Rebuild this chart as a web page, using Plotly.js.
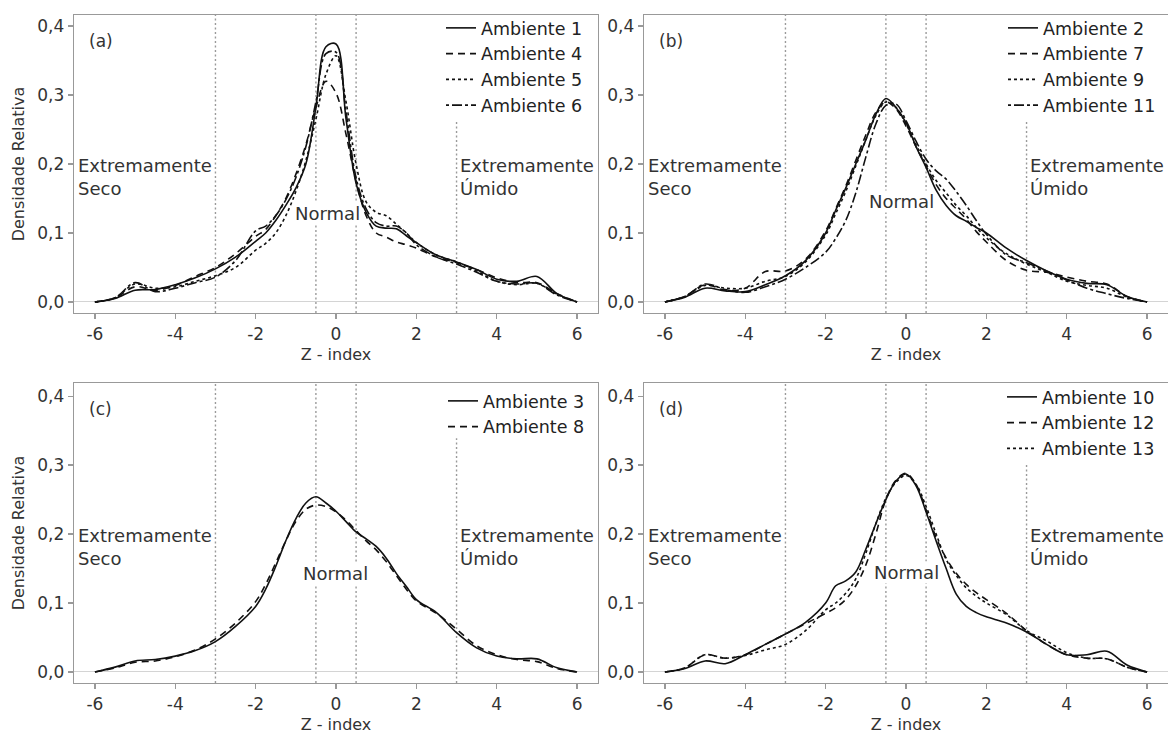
<!DOCTYPE html>
<html>
<head>
<meta charset="utf-8">
<script src="https://cdn.plot.ly/plotly-3.0.1.min.js"></script>
<style>
  html, body { margin: 0; padding: 0; background: #fff; }
  #chart { width: 1168px; height: 734px; }
</style>
</head>
<body>
<div id="chart"></div>
<script>
// ---------- data ----------
const zIndex = [-6, -5.5, -5, -4.5, -4, -3.5, -3, -2.5, -2, -1.75, -1.5, -1.25, -1, -0.75, -0.5, -0.25, 0, 0.25, 0.5, 0.75, 1, 1.25, 1.5, 1.75, 2, 2.5, 3, 3.5, 4, 4.5, 5, 5.5, 6];

// panel (a)
const amb1  = [0, 0.005, 0.017, 0.018, 0.025, 0.035, 0.048, 0.065, 0.088, 0.100, 0.118, 0.140, 0.165, 0.200, 0.282, 0.370, 0.374, 0.265, 0.172, 0.130, 0.110, 0.107, 0.106, 0.096, 0.086, 0.068, 0.058, 0.047, 0.033, 0.030, 0.037, 0.012, 0];
const amb4  = [0, 0.006, 0.022, 0.017, 0.024, 0.037, 0.050, 0.070, 0.095, 0.105, 0.125, 0.150, 0.185, 0.228, 0.282, 0.320, 0.303, 0.243, 0.175, 0.125, 0.100, 0.094, 0.087, 0.083, 0.078, 0.065, 0.057, 0.047, 0.035, 0.028, 0.028, 0.012, 0];
const amb5  = [0, 0.006, 0.026, 0.020, 0.022, 0.030, 0.038, 0.050, 0.075, 0.085, 0.100, 0.125, 0.160, 0.205, 0.265, 0.330, 0.357, 0.290, 0.200, 0.145, 0.130, 0.125, 0.113, 0.100, 0.086, 0.068, 0.058, 0.045, 0.030, 0.025, 0.027, 0.011, 0];
const amb6  = [0, 0.006, 0.028, 0.015, 0.020, 0.028, 0.036, 0.060, 0.103, 0.110, 0.125, 0.148, 0.180, 0.225, 0.290, 0.360, 0.362, 0.275, 0.180, 0.135, 0.115, 0.110, 0.110, 0.100, 0.083, 0.065, 0.055, 0.043, 0.030, 0.026, 0.027, 0.010, 0];
// panel (b)
const amb2  = [0, 0.007, 0.020, 0.016, 0.015, 0.025, 0.038, 0.060, 0.100, 0.133, 0.165, 0.200, 0.235, 0.272, 0.295, 0.282, 0.260, 0.225, 0.195, 0.162, 0.140, 0.125, 0.117, 0.108, 0.100, 0.078, 0.060, 0.045, 0.033, 0.027, 0.025, 0.008, 0];
const amb7  = [0, 0.008, 0.025, 0.017, 0.020, 0.044, 0.045, 0.062, 0.103, 0.135, 0.168, 0.205, 0.242, 0.275, 0.290, 0.280, 0.255, 0.225, 0.197, 0.170, 0.150, 0.135, 0.120, 0.102, 0.087, 0.060, 0.046, 0.043, 0.036, 0.030, 0.026, 0.008, 0];
const amb9  = [0, 0.008, 0.024, 0.020, 0.020, 0.030, 0.037, 0.058, 0.097, 0.128, 0.160, 0.197, 0.235, 0.270, 0.290, 0.282, 0.258, 0.228, 0.200, 0.176, 0.158, 0.140, 0.125, 0.108, 0.093, 0.070, 0.055, 0.043, 0.030, 0.024, 0.020, 0.007, 0];
const amb11 = [0, 0.008, 0.026, 0.018, 0.014, 0.022, 0.033, 0.050, 0.072, 0.092, 0.118, 0.158, 0.210, 0.258, 0.285, 0.287, 0.263, 0.233, 0.207, 0.190, 0.178, 0.160, 0.140, 0.118, 0.098, 0.068, 0.057, 0.045, 0.032, 0.020, 0.012, 0.005, 0];
// panel (c)
const amb3  = [0, 0.007, 0.016, 0.018, 0.023, 0.031, 0.044, 0.066, 0.095, 0.120, 0.153, 0.190, 0.222, 0.245, 0.254, 0.245, 0.233, 0.218, 0.203, 0.193, 0.182, 0.165, 0.143, 0.124, 0.105, 0.086, 0.057, 0.035, 0.023, 0.019, 0.019, 0.006, 0];
const amb8  = [0, 0.006, 0.014, 0.016, 0.022, 0.032, 0.048, 0.071, 0.102, 0.127, 0.158, 0.190, 0.218, 0.236, 0.242, 0.240, 0.232, 0.220, 0.205, 0.190, 0.177, 0.160, 0.140, 0.120, 0.103, 0.085, 0.062, 0.038, 0.025, 0.018, 0.015, 0.005, 0];
// panel (d)
const amb10 = [0, 0.005, 0.016, 0.012, 0.025, 0.040, 0.055, 0.072, 0.100, 0.125, 0.132, 0.145, 0.178, 0.215, 0.250, 0.277, 0.287, 0.270, 0.232, 0.190, 0.150, 0.113, 0.095, 0.086, 0.080, 0.071, 0.058, 0.040, 0.025, 0.025, 0.030, 0.010, 0];
const amb12 = [0, 0.006, 0.025, 0.020, 0.025, 0.040, 0.055, 0.070, 0.085, 0.093, 0.105, 0.125, 0.155, 0.200, 0.250, 0.278, 0.288, 0.272, 0.235, 0.195, 0.165, 0.143, 0.127, 0.115, 0.105, 0.085, 0.060, 0.040, 0.025, 0.020, 0.019, 0.007, 0];
const amb13 = [0, 0.006, 0.025, 0.020, 0.024, 0.032, 0.040, 0.060, 0.090, 0.100, 0.114, 0.135, 0.172, 0.215, 0.252, 0.275, 0.285, 0.272, 0.240, 0.200, 0.163, 0.140, 0.122, 0.110, 0.100, 0.083, 0.060, 0.045, 0.028, 0.020, 0.019, 0.007, 0];

const classBounds = [-3, -0.5, 0.5, 3];
const xTickVals = [-6, -4, -2, 0, 2, 4, 6];
const xTickText = ['-6', '-4', '-2', '0', '2', '4', '6'];
const yTickVals = [0, 0.1, 0.2, 0.3, 0.4];
const yTickText = ['0,0', '0,1', '0,2', '0,3', '0,4'];
const panelLetters = ['(a)', '(b)', '(c)', '(d)'];

// ---------- styling ----------
const FONT = 'DejaVu Sans, Verdana, sans-serif';
const TXT = '#333';
const dashes = {
  solid: 'solid',
  dash: '7px,5px',
  dot: '3px,3px',
  dashdot: '3px,3px,10px,3px'
};

const panels = [
  { series: [['Ambiente 1', amb1, 'solid'], ['Ambiente 4', amb4, 'dash'], ['Ambiente 5', amb5, 'dot'], ['Ambiente 6', amb6, 'dashdot']],
    xa: 'x', ya: 'y', legend: 'legend', normalX: -0.21, normalY: 0.128, topCut: 0.648 },
  { series: [['Ambiente 2', amb2, 'solid'], ['Ambiente 7', amb7, 'dash'], ['Ambiente 9', amb9, 'dot'], ['Ambiente 11', amb11, 'dashdot']],
    xa: 'x2', ya: 'y2', legend: 'legend2', normalX: -0.12, normalY: 0.145, topCut: 0.648 },
  { series: [['Ambiente 3', amb3, 'solid'], ['Ambiente 8', amb8, 'dash']],
    xa: 'x3', ya: 'y3', legend: 'legend3', normalX: -0.02, normalY: 0.143, topCut: 0.816 },
  { series: [['Ambiente 10', amb10, 'solid'], ['Ambiente 12', amb12, 'dash'], ['Ambiente 13', amb13, 'dot']],
    xa: 'x4', ya: 'y4', legend: 'legend4', normalX: 0.0, normalY: 0.144, topCut: 0.732 }
];

const traces = [];
const shapes = [];
const annotations = [];

panels.forEach((p, i) => {
  p.series.forEach(([name, vals, style]) => {
    traces.push({
      type: 'scatter', mode: 'lines', name: name,
      x: zIndex, y: vals, xaxis: p.xa, yaxis: p.ya, legend: p.legend,
      line: { color: '#111', width: 1.6, dash: dashes[style], shape: 'spline', smoothing: 1 },
      hoverinfo: 'x+y+name'
    });
  });
  classBounds.forEach((b, k) => {
    shapes.push({
      type: 'line', xref: p.xa, yref: p.ya + ' domain', layer: 'below',
      x0: b, x1: b, y0: 0, y1: (k === 3 ? p.topCut : 1),
      line: { color: '#9a9a9a', width: 1.4, dash: '2px,2.5px' }
    });
  });
  annotations.push({ text: panelLetters[i], xref: p.xa + ' domain', yref: p.ya + ' domain',
    x: 0.024, y: 0.912, xanchor: 'left', yanchor: 'middle', showarrow: false,
    font: { size: 17, color: TXT } });
  annotations.push({ text: 'Extremamente<br>Seco', xref: p.xa + ' domain', yref: p.ya,
    x: 0.004, y: 0.181, xanchor: 'left', yanchor: 'middle', align: 'left', showarrow: false,
    font: { size: 18, color: TXT } });
  annotations.push({ text: 'Extremamente<br>Úmido', xref: p.xa, yref: p.ya,
    x: 3, y: 0.181, xanchor: 'left', yanchor: 'middle', align: 'left', xshift: 1, showarrow: false,
    font: { size: 18, color: TXT } });
  annotations.push({ text: 'Normal', xref: p.xa, yref: p.ya,
    x: p.normalX, y: p.normalY, xanchor: 'center', yanchor: 'middle', showarrow: false,
    bgcolor: '#ffffff', borderpad: 0,
    font: { size: 18, color: TXT } });
});

function xAxis(domain, range, anchor) {
  return {
    domain: domain, range: range, anchor: anchor,
    tickmode: 'array', tickvals: xTickVals, ticktext: xTickText,
    ticks: 'outside', ticklen: 5, tickwidth: 1.2, tickcolor: '#999',
    showline: true, linecolor: '#999', linewidth: 1.3, mirror: true,
    showgrid: false, zeroline: false,
    tickfont: { size: 17, color: TXT, family: FONT },
    title: { text: 'Z - index', font: { size: 16, color: TXT, family: FONT }, standoff: 6 }
  };
}
function yAxis(domain, range, anchor, withTitle) {
  const a = {
    domain: domain, range: range, anchor: anchor,
    tickmode: 'array', tickvals: yTickVals, ticktext: yTickText,
    ticks: 'outside', ticklen: 5, tickwidth: 1.2, tickcolor: '#999',
    showline: true, linecolor: '#999', linewidth: 1.3, mirror: true,
    showgrid: false, zeroline: true, zerolinecolor: '#d4d4d4', zerolinewidth: 1,
    tickfont: { size: 17, color: TXT, family: FONT }
  };
  if (withTitle) a.title = { text: 'Densidade Relativa', font: { size: 16, color: TXT, family: FONT }, standoff: 8 };
  return a;
}

const W = 1168, H = 734;
const dxA = [74 / W, 598 / W], dxB = [644 / W, 1168 / W];
const dyTop = [1 - 313 / H, 1 - 15 / H], dyBot = [1 - 683 / H, 1 - 383 / H];
const rA = [-6.52, 6.52], rB = [-6.52, 6.52];

function legendAt(xpx, ypx) {
  return { x: xpx / W, y: 1 - ypx / H, xanchor: 'left', yanchor: 'top',
    bgcolor: 'rgba(0,0,0,0)', borderwidth: 0, itemwidth: 30,
    font: { size: 17.5, color: '#222', family: FONT }, tracegroupgap: 0 };
}

const layout = {
  width: W, height: H,
  margin: { l: 0, r: 0, t: 0, b: 0 },
  paper_bgcolor: '#fff', plot_bgcolor: '#fff',
  font: { family: FONT, color: TXT },
  showlegend: true,
  xaxis: xAxis(dxA, rA, 'y'),
  yaxis: yAxis(dyTop, [-0.016, 0.416], 'x', true),
  xaxis2: xAxis(dxB, rB, 'y2'),
  yaxis2: yAxis(dyTop, [-0.016, 0.416], 'x2', false),
  xaxis3: xAxis(dxA, rA, 'y3'),
  yaxis3: yAxis(dyBot, [-0.016, 0.419], 'x3', true),
  xaxis4: xAxis(dxB, rB, 'y4'),
  yaxis4: yAxis(dyBot, [-0.016, 0.419], 'x4', false),
  legend: legendAt(441, 10),
  legend2: legendAt(1003, 10),
  legend3: legendAt(443, 383),
  legend4: legendAt(1002, 379),
  shapes: shapes,
  annotations: annotations
};

Plotly.newPlot('chart', traces, layout, { displayModeBar: false, staticPlot: true });
</script>
</body>
</html>
